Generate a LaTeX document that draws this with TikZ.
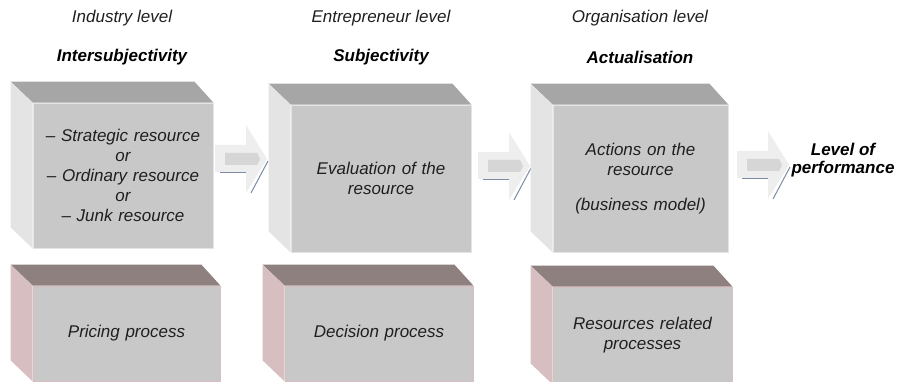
\documentclass[tikz,border=0pt]{standalone}
\usepackage{fontspec}
\setmainfont{Liberation Sans}
\usetikzlibrary{calc}

\definecolor{facegray}{RGB}{200,200,200}
\definecolor{topgray}{RGB}{166,166,166}
\definecolor{sidegray}{RGB}{228,228,228}
\definecolor{topmauve}{RGB}{143,128,128}
\definecolor{sidepink}{RGB}{214,190,193}
\definecolor{arrowlight}{RGB}{238,238,238}
\definecolor{arrowcore}{RGB}{214,214,214}
\definecolor{arrowshade}{RGB}{122,140,166}

\tikzset{
  txt/.style={font=\fontsize{17}{20}\selectfont\itshape, text=black!88, align=center, inner sep=0pt},
  head/.style={txt, font=\fontsize{17}{18}\selectfont\bfseries\itshape, text=black},
  face/.style={txt, fill=facegray, minimum width=#1, text width=#1},
  upper/.style={face=#1, draw=sidegray, line width=0.8pt},
  lower/.style={face=#1, draw=sidepink, line width=0.8pt},
  blockarrow/.pic={
    \draw[arrowshade, line width=1pt] (5,14) -- (32,14);
    \draw[arrowshade, line width=1pt] (36,34) -- (53,2);
    \fill[arrowlight] (0,-14) -- (31,-14) -- (31,-34) -- (52,0) -- (31,34) -- (31,13) -- (0,13) -- cycle;
    \fill[arrowcore] (10,-6) -- (42,-6) -- (45,0) -- (42,6) -- (10,6) -- cycle;
  }
}

% top and left faces of a box behind its front node
\newcommand{\boxfaces}[3]{%
  \fill[#2] (#1.north west) -- ++(-22,-21) -- ($(#1.north east)+(-19,-21)$) -- (#1.north east) -- cycle;
  \fill[#3] (#1.north west) -- ++(-22,-21) -- ($(#1.south west)+(-22,-21)$) -- (#1.south west) -- cycle;
}

\begin{document}
\begin{tikzpicture}[x=1pt, y=-1pt]
  \useasboundingbox (0,0) rectangle (900,382);

  % column headings
  \node[txt]  (lvlind) at (122,18) {Industry level};
  \node[head] (inter)  at (122,57) {Intersubjectivity};
  \node[txt]  (lvlent) at (381,18) {Entrepreneur level};
  \node[head] (subj)   at (381,57) {Subjectivity};
  \node[txt]  (lvlorg) at (640,18) {Organisation level};
  \node[head] (actu)   at (640,57) {Actualisation};

  % arrows between the columns
  \pic at (215,159) {blockarrow};
  \pic at (478,166) {blockarrow};
  \pic at (737,165) {blockarrow};

  % upper row
  \node[upper=180pt, minimum height=145pt] (strat) at (123,175.5)
    {-- Strategic resource\\or\\-- Ordinary resource\\or\\-- Junk resource};
  \boxfaces{strat}{topgray}{sidegray}
  \node[upper=180pt, minimum height=147pt] (evalres) at (381,178.5)
    {Evaluation of the\\resource};
  \boxfaces{evalres}{topgray}{sidegray}
  \node[upper=175pt, minimum height=147pt] (actions) at (640.5,178.5)
    {Actions on the\\resource\\[15pt](business model)};
  \boxfaces{actions}{topgray}{sidegray}

  \node[head, align=center] (perf) at (843,160) {Level of\\performance};

  % lower row
  \node[lower=187pt, minimum height=95pt] (pricing) at (126.5,333.5) {Pricing process};
  \boxfaces{pricing}{topmauve}{sidepink}
  \node[lower=188pt, minimum height=95pt] (decision) at (379,333.5) {Decision process};
  \boxfaces{decision}{topmauve}{sidepink}
  \node[lower=179pt, minimum height=97pt] (resproc) at (642.5,335.5)
    {Resources related\\processes};
  \boxfaces{resproc}{topmauve}{sidepink}
\end{tikzpicture}
\end{document}
